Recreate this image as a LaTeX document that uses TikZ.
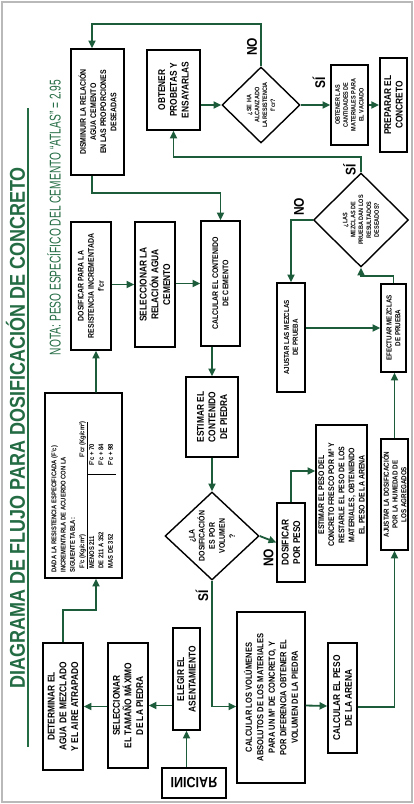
\documentclass[tikz,border=0pt]{standalone}
\usepackage{fontspec}
\setmainfont{Liberation Sans}[FakeStretch=0.85]
\usepackage{graphicx}
\usepackage{tikz}
\usetikzlibrary{shapes,arrows.meta,positioning,calc}

\definecolor{verde}{RGB}{28,92,58}
\definecolor{verdetit}{RGB}{36,108,68}

\newlength{\pxu}
\setlength{\pxu}{0.025cm}
% texto girado dentro de las cajas
\newcommand{\vt}[2]{\rotatebox{90}{\parbox{#1\pxu}{\centering #2}}}

\begin{document}
\begin{tikzpicture}[x=0.025cm, y=-0.025cm,
    caja/.style={rectangle, draw=black, line width=1pt, fill=white, inner sep=0pt},
    decision/.style={diamond, draw=black, line width=1pt, fill=white, inner sep=0pt},
    sz/.style 2 args={minimum width=#1*0.025cm, minimum height=#2*0.025cm},
    grande/.style={font=\bfseries\fontsize{7}{8.3}\selectfont},
    medio/.style={font=\bfseries\fontsize{5.8}{7.2}\selectfont},
    chico/.style={font=\bfseries\fontsize{5.2}{6.2}\selectfont},
    mini/.style={font=\bfseries\fontsize{4.6}{5.6}\selectfont},
    flecha/.style={->, >={Triangle[length=5.5pt,width=5pt]}, line width=1.3pt, draw=verde},
    etiq/.style={font=\bfseries\fontsize{10}{10}\selectfont, inner sep=0pt}
]
    \useasboundingbox (0,0) rectangle (414,804);
    \draw[gray!55, line width=0.8pt] (2,2) rectangle (412,802);

    % Titulo y nota
    \node[text=verdetit, inner sep=0pt] (titulo) at (15.5,427.5) {\rotatebox{90}{\resizebox{521\pxu}{19\pxu}{\bfseries DIAGRAMA DE FLUJO PARA DOSIFICACIÓN DE CONCRETO}}};
    \draw[verdetit, line width=1pt] (28,108) -- (28,747);
    \node[text=verdetit, inner sep=0pt] (nota) at (54,217.5) {\rotatebox{90}{\resizebox{275\pxu}{13.5\pxu}{NOTA: PESO ESPECÍFICO DEL CEMENTO “ATLAS” = 2.95}}};

    % Columna de inicio
    \node[caja, sz={64}{30}, line width=1.3pt, font=\bfseries\fontsize{10.5}{11}\selectfont] (iniciar) at (194,783) {\scalebox{1}[-1]{INICIAR}};
    \node[caja, grande, sz={27}{102}] (elegir) at (186.5,679) {\vt{96}{ELEGIR EL\\ASENTAMIENTO}};
    \node[caja, grande, sz={40}{125}] (seltam) at (128,705.5) {\vt{118}{SELECCIONAR\\EL TAMAÑO MÁXIMO\\DE LA PIEDRA}};
    \node[caja, grande, sz={40}{127}] (determ) at (63,706.5) {\vt{120}{DETERMINAR EL\\AGUA DE MEZCLADO\\Y EL AIRE ATRAPADO}};

    % Tabla de resistencia
    \node[caja, sz={77}{185}, font=\bfseries\fontsize{4.9}{6.6}\selectfont] (tabla) at (83.5,485.5) {\rotatebox{90}{\parbox{174\pxu}{\raggedright
        DADA LA RESISTENCIA ESPECIFICADA (F'c)\\
        INCREMENTARLA DE ACUERDO CON LA\\
        SIGUIENTE TABLA:\\[1pt]
        \hspace*{4\pxu}\begin{tabular}{@{}p{86\pxu}|@{\hspace{8\pxu}}l@{}}
        \multicolumn{1}{@{}l}{F'c (Kg/cm²)} & \multicolumn{1}{@{\hspace{8\pxu}}l@{}}{F'cr (Kg/cm²)}\\ \hline
        MENOS 211 & F'c + 70\\
        DE 211 A 352 & F'c + 84\\
        MAS DE 352 & F'c + 98
        \end{tabular}}}};

    % Fila central
    \node[caja, medio, sz={40}{128}] (dosres) at (91,286) {\vt{122}{DOSIFICAR PARA LA\\RESISTENCIA INCREMENTADA\\f'cr}};
    \node[caja, grande, sz={40}{125}] (selrel) at (155,284.5) {\vt{118}{SELECCIONAR LA\\RELACIÓN AGUA\\CEMENTO}};
    \node[caja, medio, sz={39}{125}] (calcem) at (220.5,283.5) {\vt{118}{CALCULAR EL CONTENIDO\\DE CEMENTO}};
    \node[caja, grande, sz={52}{80}] (estpied) at (212,417) {\vt{74}{ESTIMAR EL\\CONTENIDO\\DE PIEDRA}};
    \node[decision, sz={94}{88}, label={[medio]center:{\vt{70}{¿LA\\DOSIFICACIÓN\\ES POR\\VOLUMEN\\?}}}] (volumen) at (212,536) {};
    \node[caja, font=\bfseries\fontsize{6.3}{8.2}\selectfont, sz={68}{171}] (calvol) at (271,697.5) {\vt{164}{CALCULAR LOS VOLÚMENES\\ABSOLUTOS DE LOS MATERIALES\\PARA UN M³ DE CONCRETO, Y\\POR DIFERENCIA OBTENER EL\\VOLUMEN DE LA PIEDRA}};
    \node[caja, grande, sz={29}{110}] (calare) at (342.5,698) {\vt{104}{CALCULAR EL PESO\\DE LA ARENA}};

    % Rama por peso
    \node[caja, grande, sz={28}{79}] (porpeso) at (291,542.5) {\vt{74}{DOSIFICAR\\POR PESO}};
    \node[caja, medio, sz={51}{140}] (estpeso) at (341.5,495) {\vt{134}{ESTIMAR EL PESO DEL\\CONCRETO FRESCO POR M³ Y\\RESTARLE EL PESO DE LOS\\MATERIALES, OBTENIENDO\\EL PESO DE LA ARENA}};

    % Mezclas de prueba
    \node[caja, chico, sz={27}{111}] (ajdos) at (394.5,494.5) {\vt{105}{AJUSTAR LA DOSIFICACIÓN\\POR LA HUMEDAD DE\\LOS AGREGADOS}};
    \node[caja, chico, sz={25}{88}] (efect) at (393.5,328) {\vt{82}{EFECTUAR MEZCLAS\\DE PRUEBA}};
    \node[caja, chico, sz={28}{109}] (ajmez) at (291,337.5) {\vt{103}{AJUSTAR LAS MEZCLAS\\DE PRUEBA}};
    \node[decision, sz={95}{94}, label={[mini]center:{\vt{66}{¿LAS\\MEZCLAS DE\\PRUEBA DAN LOS\\RESULTADOS\\DESEADOS?}}}] (mezclas) at (361,220) {};

    % Parte superior
    \node[caja, medio, sz={53}{126}] (dismin) at (97.5,112) {\vt{120}{DISMINUIR LA RELACIÓN\\AGUA CEMENTO\\EN LAS PROPORCIONES\\DESEADAS}};
    \node[caja, grande, sz={53}{80}] (probetas) at (173.5,90) {\vt{74}{OBTENER\\PROBETAS Y\\ENSAYARLAS}};
    \node[decision, sz={78}{76}, label={[mini]center:{\vt{56}{¿SE HA\\ALCANZADO\\LA RESISTENCIA\\f'cr?}}}] (resist) at (261,105) {};
    \node[caja, mini, sz={37}{80}] (cantid) at (349.5,105) {\vt{74}{OBTENER LAS\\CANTIDADES DE\\MATERIALES PARA\\EL VACIADO}};
    \node[caja, grande, sz={27}{94}, line width=1.3pt] (preparar) at (393.5,105) {\vt{88}{PREPARAR EL\\CONCRETO}};

    % Etiquetas SI / NO
    \node[etiq] (no1) at (252,47) {\rotatebox{90}{NO}};
    \node[etiq] (si1) at (319,83) {\rotatebox{90}{SÍ}};
    \node[etiq] (si2) at (349.5,170) {\rotatebox{90}{SÍ}};
    \node[etiq] (no2) at (299,207) {\rotatebox{90}{NO}};
    \node[etiq] (si3) at (202,596) {\rotatebox{90}{SÍ}};
    \node[etiq] (no3) at (268.5,558) {\rotatebox{90}{NO}};

    % Flechas
    \draw[flecha] (iniciar.north -| elegir.south) -- (elegir.south);
    \draw[flecha] (elegir.west |- seltam.east) -- (seltam.east);
    \draw[flecha] (seltam.west |- determ.east) -- (determ.east);
    \draw[flecha] (determ.north) -- ++(0,-32) -| ($(tabla.south)+(12.5,0)$);
    \draw[flecha] ($(tabla.north)+(12.5,0)$) -- ($(dosres.south)+(5,0)$);
    \draw[flecha] (dosres.east |- selrel.west) -- (selrel.west);
    \draw[flecha] (selrel.east |- calcem.west) -- (calcem.west);
    \draw[flecha] (calcem.south -| estpied.north) -- (estpied.north);
    \draw[flecha] (estpied.south) -- (volumen.north);
    \draw[flecha] (volumen.south) |- ($(calvol.west)+(0,9)$);
    \draw[flecha] ($(calvol.east)+(0,8)$) -- ($(calare.west)+(0,8)$);
    \draw[flecha] ($(calare.east)+(0,9)$) -| (ajdos.south);
    \draw[flecha] (ajdos.north) -- (ajdos.north |- efect.south);
    \draw[flecha] (efect.north) -- ++(0,-7) -| (mezclas.south);
    \draw[flecha] (mezclas.west) -| (ajmez.north);
    \draw[flecha] (ajmez.east |- efect.west) -- (efect.west);
    \draw[flecha] (mezclas.north) -- ++(0,-15) -| (probetas.south);
    \draw[flecha] (probetas.east |- resist.west) -- (resist.west);
    \draw[flecha] (resist.north) -- ++(0,-42) -| ($(dismin.north)+(-5.5,0)$);
    \draw[flecha] ($(dismin.south)+(-5.5,0)$) -- ++(0,17) -| (calcem.north);
    \draw[flecha] (resist.east) -- (cantid.west);
    \draw[flecha] (cantid.east) -- (preparar.west);
    \draw[flecha] (volumen.east) -- (porpeso.west);
    \draw[flecha] (porpeso.north) |- ($(estpeso.west)+(0,-24)$);
\end{tikzpicture}
\end{document}
